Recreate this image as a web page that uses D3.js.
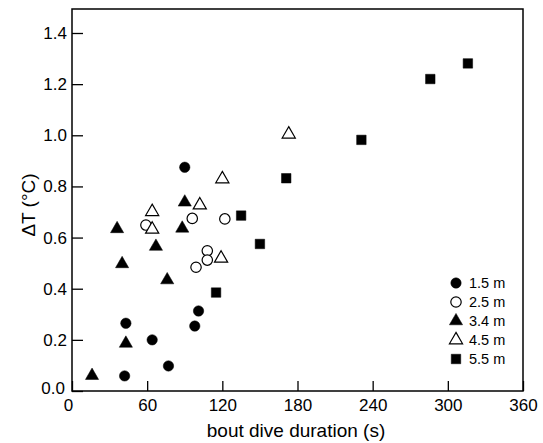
<!DOCTYPE html>
<html>
<head>
<meta charset="utf-8">
<script src="https://cdn.jsdelivr.net/npm/d3@7"></script>
<style>
  body { margin: 0; background: #fff; }
  text { font-family: "Liberation Sans", Arial, sans-serif; fill: #000; }
</style>
</head>
<body>
<div id="chart"></div>
<script>
// depth groups
var depths = ['1.5 m', '2.5 m', '3.4 m', '4.5 m', '5.5 m']

// bout dive duration (s) / delta T (C), per depth
var d15_x = [90, 43, 101, 98, 64, 77, 42]
var d15_y = [0.875, 0.265, 0.313, 0.254, 0.20, 0.098, 0.059]

var d25_x = [59, 96, 122, 108, 108, 99]
var d25_y = [0.649, 0.675, 0.673, 0.548, 0.512, 0.484]

var d34_x = [36, 40, 67, 90, 88, 76, 43, 16]
var d34_y = [0.634, 0.497, 0.565, 0.738, 0.636, 0.434, 0.186, 0.06]

var d45_x = [120, 64, 102, 64, 119, 173]
var d45_y = [0.829, 0.701, 0.727, 0.632, 0.519, 1.004]

var d55_x = [135, 150, 115, 171, 231, 286, 316]
var d55_y = [0.686, 0.575, 0.385, 0.832, 0.982, 1.220, 1.281]

var xTicks = [0, 60, 120, 180, 240, 300, 360]
var yTicks = [0.0, 0.2, 0.4, 0.6, 0.8, 1.0, 1.2, 1.4]

var series = [
    { name: depths[0], xs: d15_x, ys: d15_y, shape: 'circle',   filled: true  },
    { name: depths[1], xs: d25_x, ys: d25_y, shape: 'circle',   filled: false },
    { name: depths[2], xs: d34_x, ys: d34_y, shape: 'triangle', filled: true  },
    { name: depths[3], xs: d45_x, ys: d45_y, shape: 'triangle', filled: false },
    { name: depths[4], xs: d55_x, ys: d55_y, shape: 'square',   filled: true  }
]

var width = 543, height = 443
var plotLeft = 72, plotRight = 523, plotTop = 9

var x = d3.scaleLinear().domain([0, 360]).range([plotLeft, plotRight])
var y = d3.scaleLinear().domain([0, 1.4]).range([391, 33])
var plotBottom = y(0)

var svg = d3.select('#chart').append('svg')
    .attr('width', width)
    .attr('height', height)

// frame
svg.append('rect')
    .attr('x', plotLeft).attr('y', plotTop)
    .attr('width', plotRight - plotLeft).attr('height', plotBottom - plotTop)
    .attr('fill', 'none').attr('stroke', '#000').attr('stroke-width', 1.5)

// axes, ticks inside the frame
var xAxis = svg.append('g')
    .attr('transform', 'translate(0,' + plotBottom + ')')
    .call(d3.axisBottom(x).tickValues(xTicks).tickSizeInner(-10).tickSizeOuter(0).tickPadding(8).tickFormat(d3.format('d')))
var yAxis = svg.append('g')
    .attr('transform', 'translate(' + plotLeft + ',0)')
    .call(d3.axisLeft(y).tickValues(yTicks).tickSizeInner(-11).tickSizeOuter(0).tickPadding(5).tickFormat(d3.format('.1f')))

svg.selectAll('.domain').remove()
svg.selectAll('.tick line').attr('stroke', '#000').attr('stroke-width', 1.3)
svg.selectAll('.tick text').attr('font-size', 17).attr('fill', '#000')
    .style('font-family', '"Liberation Sans", Arial, sans-serif')
// corner labels nudged apart like the original
yAxis.selectAll('.tick text').filter(d => d === 0).attr('dy', '0.15em').attr('x', -7)
xAxis.selectAll('.tick text').filter(d => d === 0).attr('x', -4)

// axis titles
svg.append('text')
    .attr('x', 296).attr('y', 437)
    .attr('text-anchor', 'middle').attr('font-size', 19)
    .text('bout dive duration (s)')
svg.append('text')
    .attr('transform', 'translate(35,205) rotate(-90)')
    .attr('text-anchor', 'middle').attr('font-size', 19)
    .text('\u0394T (\u00B0C)')

// marker shapes
var sym = {
    circle:   d3.symbol().type(d3.symbolCircle).size(85),
    triangle: d3.symbol().type(d3.symbolTriangle).size(75),
    square:   d3.symbol().type(d3.symbolSquare).size(90)
}

function drawMarker(g, s, px, py) {
    g.append('path')
        .attr('d', sym[s.shape]())
        .attr('transform', 'translate(' + px + ',' + py + ')')
        .attr('fill', s.filled ? '#000' : '#fff')
        .attr('stroke', '#000')
        .attr('stroke-width', s.filled ? 0.5 : 1.2)
}

var pts = svg.append('g')
series.forEach(function(s) {
    var data = s.xs.map((v, i) => [v, s.ys[i]])
    data.forEach(d => drawMarker(pts, s, x(d[0]), y(d[1])))
})

// legend
var leg = svg.append('g')
series.forEach(function(s, i) {
    var ly = 283 + i * 19
    drawMarker(leg, s, 456, ly)
    leg.append('text')
        .attr('x', 469).attr('y', ly)
        .attr('dy', '0.36em')
        .attr('font-size', 14.5)
        .text(s.name)
})
</script>
</body>
</html>
